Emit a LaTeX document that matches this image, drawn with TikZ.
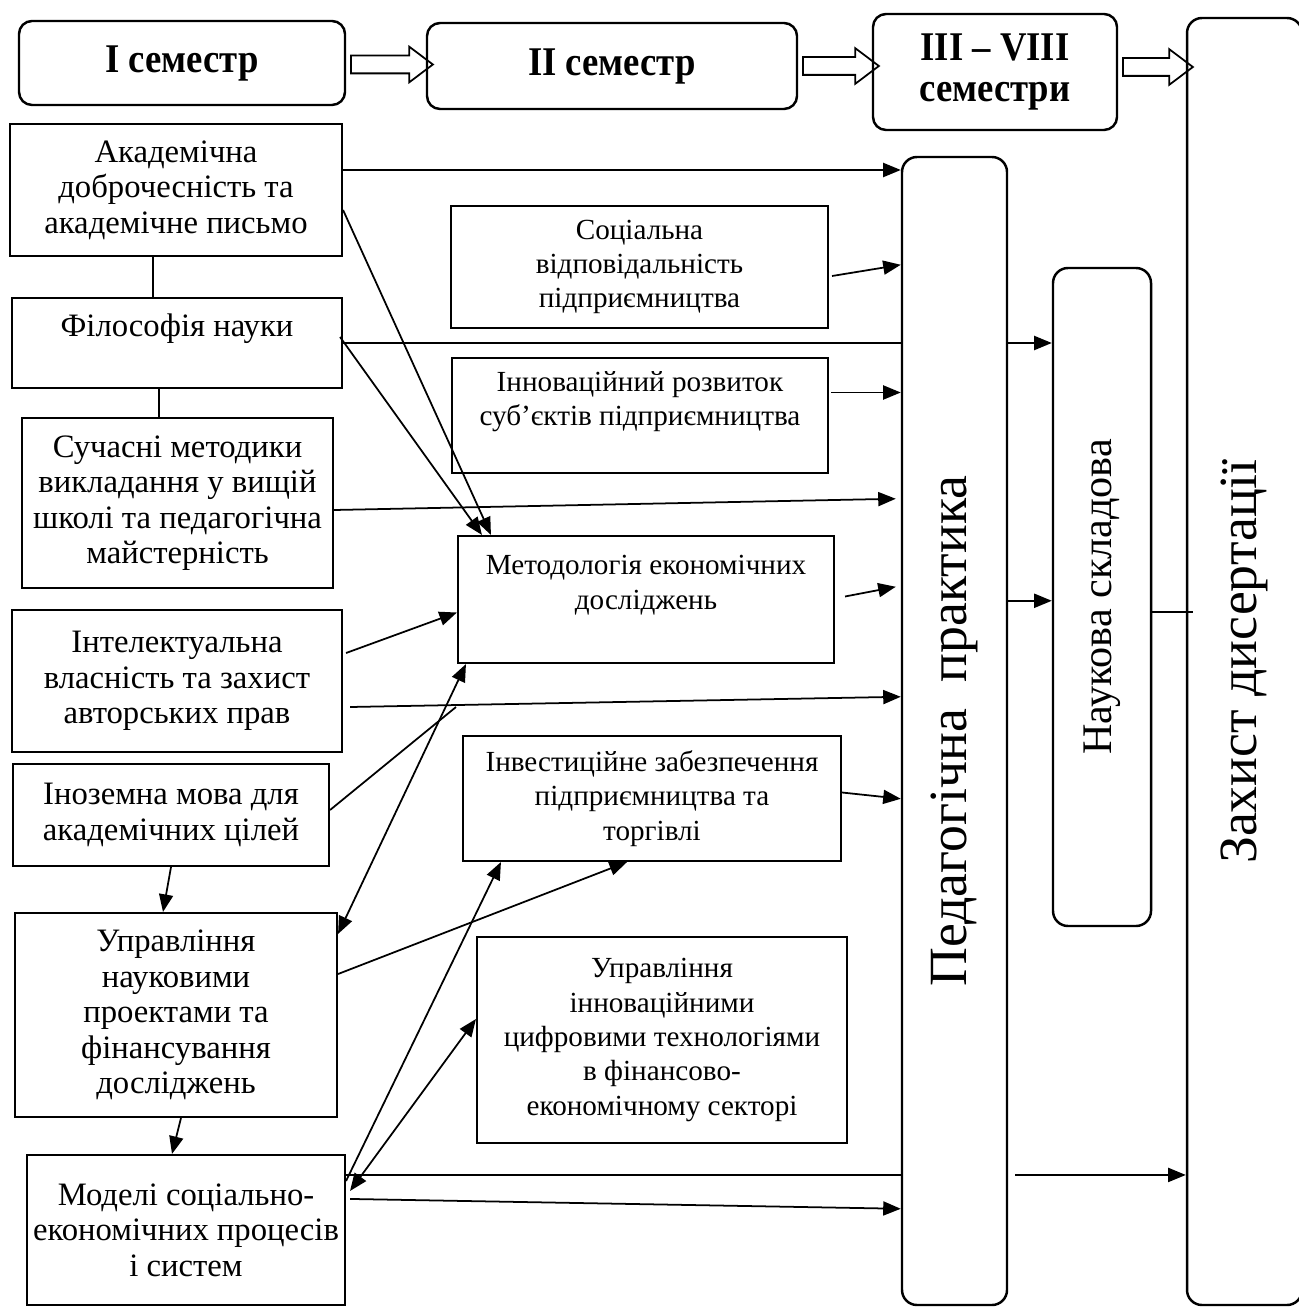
\documentclass[tikz,border=0pt]{standalone}
\usepackage{fontspec}
\setmainfont{Liberation Serif}
\newfontfamily\headfont[FakeStretch=0.9]{Liberation Serif}
\usetikzlibrary{arrows.meta,shapes.arrows}

\begin{document}
\begin{tikzpicture}[
  sem/.style={rectangle, draw, line width=0.7pt, rounded corners=0.13cm, align=center, inner sep=0pt, font=\headfont\fontsize{11.6}{11.8}\selectfont\bfseries},
  tall/.style={rectangle, draw, line width=0.7pt, rounded corners=0.15cm, inner sep=0pt},
  lbox/.style={rectangle, draw, line width=0.6pt, align=center, inner sep=0pt, font=\fontsize{9.3}{10.1}\selectfont},
  mbox/.style={rectangle, draw, line width=0.6pt, align=center, inner sep=0pt, font=\fontsize{8.3}{9.8}\selectfont},
  arrow/.style={-{Triangle[length=5pt,width=4pt]}, line width=0.5pt},
  both/.style={{Triangle[length=5pt,width=4pt]}-{Triangle[length=5pt,width=4pt]}, line width=0.5pt},
  link/.style={line width=0.5pt},
  block/.style={single arrow, draw, line width=0.5pt, text height=0.16cm, text depth=0pt, minimum width=0pt, inner sep=0pt, single arrow head extend=0.09cm, single arrow tip angle=74}
]
  \useasboundingbox (0,0) rectangle (12.98,-13.11);

  % Semester row (top)
  \node[sem, minimum width=3.26cm, minimum height=0.84cm] (sem1) at (1.82,-0.63) {I семестр};
  \node[sem, minimum width=3.70cm, minimum height=0.86cm] (sem2) at (6.12,-0.66) {II семестр};
  \node[sem, minimum width=2.44cm, minimum height=1.16cm] (sem3) at (9.95,-0.72) {III – VIII\\семестри};

  % Long columns on the right
  \node[tall, minimum width=1.15cm, minimum height=12.87cm] (zahyst) at (12.445,-6.615) {\rotatebox{90}{\fontsize{15.3}{18}\selectfont Захист дисертації}};
  \node[tall, minimum width=1.05cm, minimum height=11.48cm] (ped) at (9.545,-7.31) {\rotatebox{90}{\fontsize{15.3}{18}\selectfont Педагогічна\ \ практика}};
  \node[tall, minimum width=0.98cm, minimum height=6.58cm] (nauk) at (11.02,-5.97) {\rotatebox{90}{\fontsize{12}{14}\selectfont Наукова складова}};

  % I semester disciplines (left column)
  \node[lbox, minimum width=3.32cm, minimum height=1.32cm] (akad) at (1.76,-1.90) {Академічна\\доброчесність та\\академічне письмо};
  \node[lbox, minimum width=3.30cm, minimum height=0.90cm] (filos) at (1.77,-3.43) {Філософія науки\\\phantom{x}};
  \node[lbox, minimum width=3.11cm, minimum height=1.70cm] (such) at (1.775,-5.03) {Сучасні методики\\викладання у вищій\\школі та педагогічна\\майстерність};
  \node[lbox, minimum width=3.30cm, minimum height=1.42cm] (intel) at (1.77,-6.81) {Інтелектуальна\\власність та захист\\авторських прав};
  \node[lbox, minimum width=3.16cm, minimum height=1.02cm] (inoz) at (1.71,-8.15) {Іноземна мова для\\академічних цілей};
  \node[lbox, minimum width=3.22cm, minimum height=2.04cm] (uprnauk) at (1.76,-10.15) {Управління\\науковими\\проектами та\\фінансування\\досліджень};
  \node[lbox, minimum width=3.18cm, minimum height=1.50cm] (model) at (1.86,-12.30) {Моделі соціально-\\економічних процесів\\і систем};

  % II semester disciplines (middle column)
  \node[mbox, minimum width=3.77cm, minimum height=1.22cm] (social) at (6.395,-2.67) {Соціальна\\відповідальність\\підприємництва};
  \node[mbox, minimum width=3.76cm, minimum height=1.15cm] (innov) at (6.40,-4.155) {Інноваційний розвиток\\суб’єктів підприємництва\\\phantom{x}};
  \node[mbox, minimum width=3.76cm, minimum height=1.27cm] (metod) at (6.46,-5.995) {Методологія економічних\\досліджень\\\phantom{x}};
  \node[mbox, minimum width=3.78cm, minimum height=1.25cm] (invest) at (6.52,-7.985) {Інвестиційне забезпечення\\підприємництва та\\торгівлі};
  \node[mbox, minimum width=3.70cm, minimum height=2.06cm] (uprinn) at (6.62,-10.40) {Управління\\інноваційними\\цифровими технологіями\\в фінансово-\\економічному секторі};

  % Semester flow
  \path (sem1.east) -- (sem2.west) node[midway, block, minimum height=0.82cm] {};
  \path (sem2.east) -- (sem2.east -| sem3.west) node[midway, block, minimum height=0.76cm] {};
  \path ([yshift=0.5mm]sem3.east) coordinate (s3) -- (s3 -| zahyst.west) node[midway, block, minimum height=0.70cm] {};

  % Links inside the left column
  \draw[link] ([xshift=-2.3mm]akad.south) coordinate (c1) -- (c1 |- filos.north);
  \draw[link] ([xshift=-1.8mm]filos.south) coordinate (c2) -- (c2 |- such.north);
  \draw[arrow] (inoz.south) -- ([xshift=-1.3mm]uprnauk.north);
  \draw[arrow] ([xshift=0.5mm]uprnauk.south) -- ([xshift=-1.4mm]model.north);

  % Left column to the middle column
  \draw[arrow] ([yshift=-2mm]akad.east) -- ([xshift=3.4mm]metod.north west);
  \draw[arrow] ([xshift=-0.3mm,yshift=0.6mm]filos.east) -- ([xshift=2.5mm]metod.north west);
  \draw[arrow] ([xshift=0.3mm,yshift=2.8mm]intel.east) -- ([yshift=-1.3mm]metod.west);
  \coordinate (inozend) at (4.56,-7.07);
  \draw[link] ([yshift=0.5mm]inoz.east) -- (inozend);
  \draw[both] ([yshift=-2.2mm]uprnauk.north east) -- ([xshift=0.9mm]metod.south west);
  \draw[arrow] ([yshift=4.1mm]uprnauk.east) -- ([xshift=-2.5mm]invest.south);
  \draw[arrow] ([yshift=-2.7mm]model.north east) -- ([xshift=3.9mm]invest.south west);
  \draw[both] ([xshift=0.4mm,yshift=-3.7mm]model.north east) -- ([yshift=2.1mm]uprinn.west);

  % Into Педагогічна практика
  \draw[arrow] ([yshift=2mm]akad.east) coordinate (p1) -- (p1 -| ped.west);
  \draw[link] (filos.east) -- (filos.east -| ped.west);
  \draw[arrow] ([yshift=-0.7mm]such.east) -- ([xshift=-0.5mm,yshift=-3.43cm]ped.north west);
  \draw[arrow] ([xshift=0.7mm,yshift=-2.6mm]intel.east) -- ([yshift=-5.41cm]ped.north west);
  \draw[arrow] ([xshift=0.3mm,yshift=-0.9mm]social.east) -- ([yshift=-1.09cm]ped.north west);
  \draw[arrow] ([xshift=0.2mm,yshift=2.3mm]innov.east) coordinate (p2) -- (p2 -| ped.west);
  \draw[arrow] ([xshift=1mm,yshift=0.3mm]metod.east) -- ([xshift=-0.5mm,yshift=-4.31cm]ped.north west);
  \draw[arrow] ([yshift=0.6mm]invest.east) -- ([yshift=-6.43cm]ped.north west);
  \draw[link] ([yshift=-2.1mm]model.north east) coordinate (p3) -- (p3 -| ped.west);
  \draw[arrow] ([xshift=0.4mm,yshift=-4.5mm]model.north east) -- ([yshift=-10.53cm]ped.north west);

  % Towards Наукова складова and Захист дисертації
  \draw[arrow] (filos.east -| ped.east) -- (filos.east -| nauk.west);
  \draw[arrow] ([yshift=-4.45cm]ped.north east) coordinate (p4) -- (p4 -| nauk.west);
  \draw[link, shorten >=-0.7mm] ([yshift=-1.5mm]nauk.east) coordinate (p5) -- (p5 -| zahyst.west);
  \draw[arrow] ([xshift=0.7mm]p3 -| ped.east) -- (p3 -| zahyst.west);
\end{tikzpicture}
\end{document}
